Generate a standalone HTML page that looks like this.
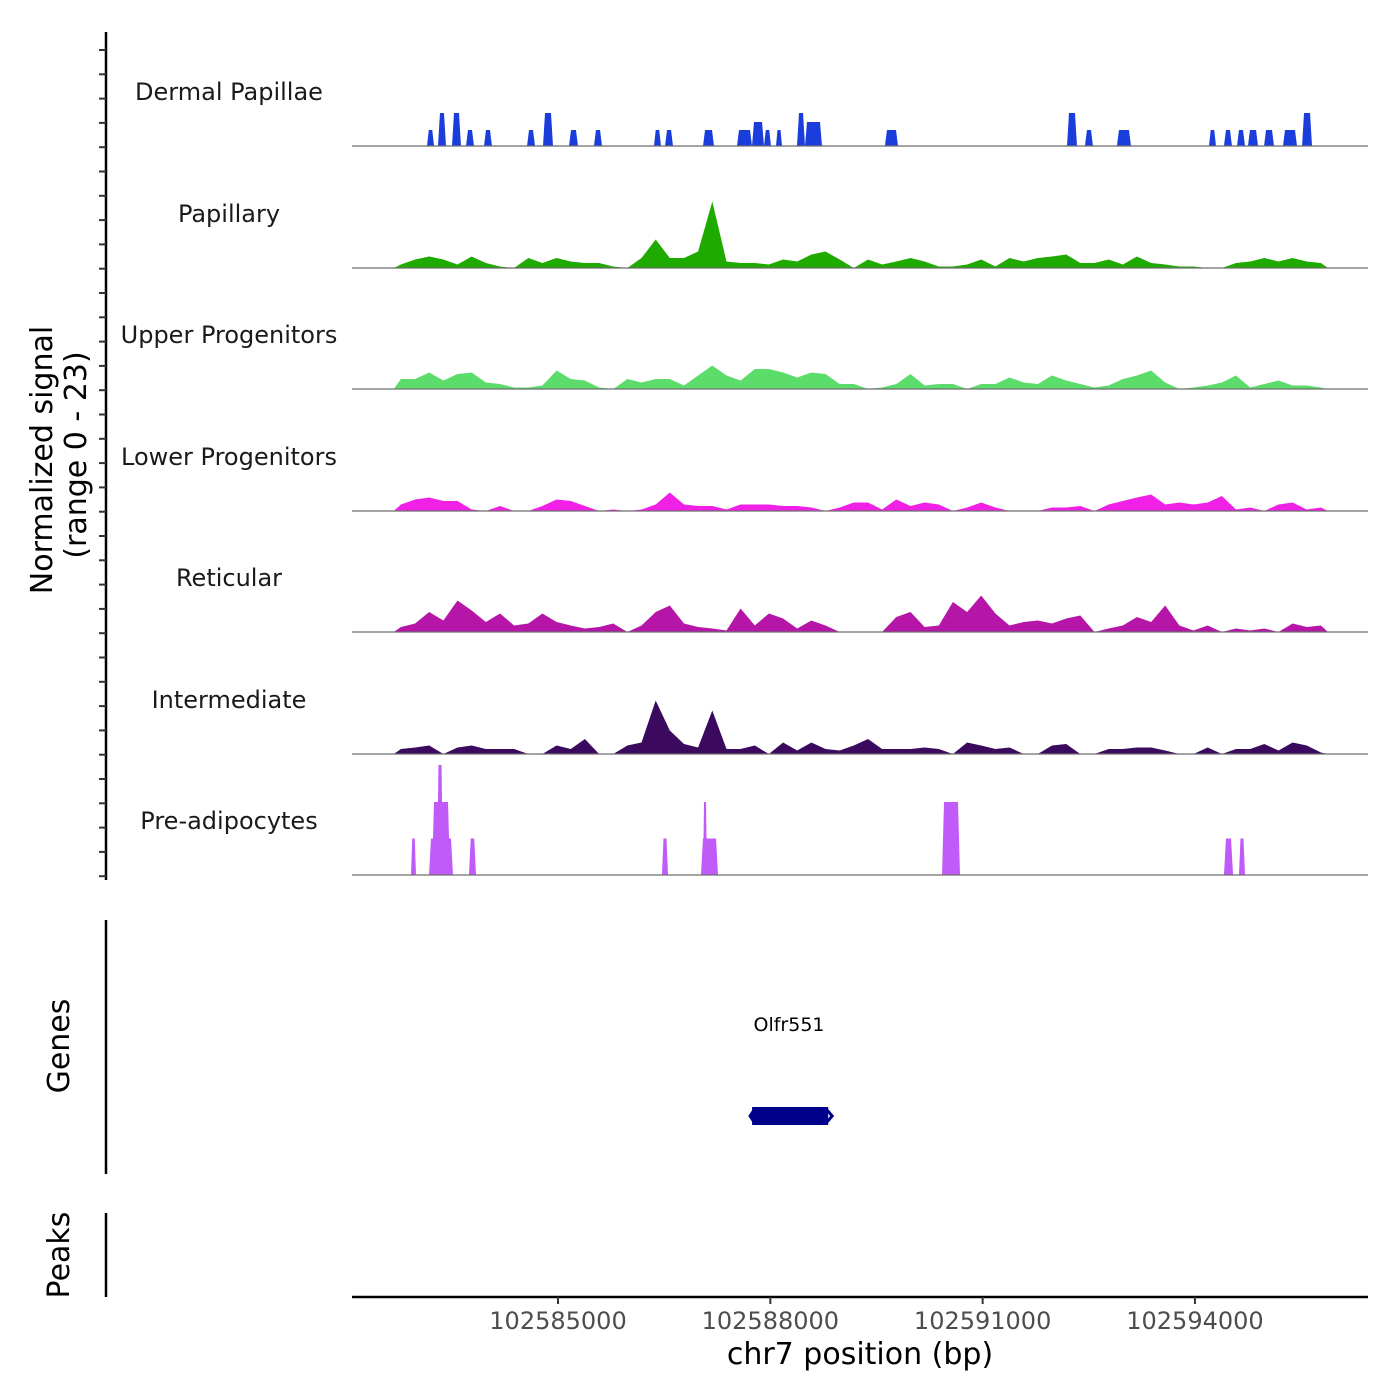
<!DOCTYPE html>
<html><head><meta charset="utf-8"><style>
html,body{margin:0;padding:0;background:#fff;}
svg{display:block;font-family:"DejaVu Sans","Liberation Sans",sans-serif;}
</style></head><body>
<svg id="chart" width="1400" height="1400" viewBox="0 0 1400 1400" xmlns="http://www.w3.org/2000/svg">
<g id="axes"></g>
<g id="tracks"></g>
<text transform="translate(52,460) rotate(-90)" text-anchor="middle" font-size="30" fill="#000">Normalized signal</text>
<text transform="translate(86,455) rotate(-90)" text-anchor="middle" font-size="30" fill="#000">(range 0 - 23)</text>
<text transform="translate(69,1046) rotate(-90)" text-anchor="middle" font-size="30" fill="#000">Genes</text>
<text transform="translate(69,1255) rotate(-90)" text-anchor="middle" font-size="30" fill="#000">Peaks</text>
<text x="860" y="1364" text-anchor="middle" font-size="30" fill="#000">chr7 position (bp)</text>
<text x="789" y="1031" text-anchor="middle" font-size="19" fill="#000">Olfr551</text>
</svg>
<script>
// ---- data ----
const regionStart = 102582089;
const bpPerPx = 14.13;
const xTicks = [102585000, 102588000, 102591000, 102594000];
const trackNames = ["Dermal Papillae","Papillary","Upper Progenitors","Lower Progenitors","Reticular","Intermediate","Pre-adipocytes"];
const trackColors = ["#1a3ddc","#1faa00","#5cdc6a","#f020e6","#b516a8","#3b0a5e","#c05af8"];
const binStart = 102582680;
const binWidth = 200;
const papillary = [0.7,1.7,2.3,1.7,0.7,2.3,1,0.3,0,2,1,2,1.3,1,1,0.3,0,2,5.7,2,2,3.3,13.3,1.3,1,1,0.7,1.7,1.3,2.7,3.3,1.7,0,1.7,0.7,1.3,2,1.3,0.3,0.3,0.7,1.7,0.3,2,1.3,2,2.3,2.7,1,1,1.7,0.7,2.3,1,0.7,0.3,0.3,0,0,1,1.3,2,1.3,2,1.3,1];
const upperProg = [2,2,3.3,1.7,3,3.3,1.3,1,0.3,0.3,0.7,3.7,2,1.7,0.3,0,2,1.3,2,2,0.7,2.7,4.7,2.7,1.7,4,4,3.3,2.3,3.3,3,1,1,0,0.3,1,3,0.7,1,1,0,1,1,2.3,1.3,1,2.7,1.7,1,0.3,0.7,2,2.7,3.7,1.3,0,0.3,0.7,1.3,2.7,0.3,1,1.7,0.7,0.7,0.3];
const lowerProg = [1.3,2.3,2.7,2,2,0.3,0,1,0,0,1,2.3,2,1,0,0.3,0,0.3,1.3,3.7,1.3,1,1,0.3,1.3,1.3,1.3,1,1,0.7,0,0.7,1.7,1.7,0.3,2.3,1,1.7,1.3,0,0.7,1.7,0.7,0,0,0,0.7,0.7,1,0,1.3,2,2.7,3.3,1.3,1.7,1.3,1.7,3,0.3,0.7,0,1.3,1.7,0.3,0.7];
const reticular = [1,1.7,4,2.3,6.3,4.3,2,3.7,1.3,1.7,3.7,2,1.3,0.7,1,1.7,0,1.3,4,5.3,1.7,1,0.7,0.3,4.7,1.3,3.7,2.7,0.7,2.3,1.3,0,0,0,0,3,4,1,1.3,6,4,7.3,3.7,1.3,2,2.3,1.7,2.7,3.3,0,0.7,1.3,3,2,5.3,1.3,0.3,1.3,0,0.7,0.3,0.7,0,1.7,1,1.3];
const intermediate = [1,1.3,1.7,0,1.3,1.7,1,1,1,0,0,1.7,1,3,0,0,1.7,2.3,10.7,4.7,2,1.3,8.7,1,1,1.7,0,2.3,0.7,2.3,1,0.7,1.7,3,1,1,1,1.3,1,0,2.3,1.7,1,1.3,0,0,1.7,2,0,0,1,1,1.3,1.3,0.7,0,0,1.3,0,1,1,2,0.7,2.3,1.7,0.3];
const dermalStarts = [102583149,102583304,102583502,102583700,102583954,102584562,102584788,102585155,102585508,102586356,102586512,102587049,102587529,102587741,102587911,102588080,102588377,102588490,102589620,102592192,102592446,102592898,102594198,102594410,102594594,102594749,102594976,102595244,102595513];
const dermalEnds   = [102583248,102583417,102583629,102583813,102584067,102584675,102584929,102585282,102585622,102586455,102586625,102587204,102587741,102587911,102588009,102588165,102588490,102588730,102589804,102592333,102592559,102593096,102594297,102594523,102594707,102594891,102595117,102595442,102595654];
const dermalHeights= [3.2,6.6,6.6,3.2,3.2,3.2,6.6,3.2,3.2,3.2,3.2,3.2,3.2,4.8,3.2,3.2,6.6,4.8,3.2,6.6,3.2,3.2,3.2,3.2,3.2,3.2,3.2,3.2,6.6];
const preadStarts = [102582923,102583177,102583219,102583290,102583742,102586469,102587020,102587049,102590426,102594410,102594622];
const preadEnds   = [102582993,102583516,102583474,102583375,102583841,102586554,102587261,102587105,102590680,102594538,102594707];
const preadHeights= [7.3,7.3,14.6,22,7.3,7.3,7.3,14.6,14.6,7.3,7.3];
const geneStart = 102587742, geneEnd = 102588817;

// ---- layout ----
const X0 = 352, X1 = 1368;
const baselines = [146,268,389,511,632,754,875];
const pxPerUnit = 5;
const NS = "http://www.w3.org/2000/svg";
function xs(bp){ return X0 + (bp - regionStart) / bpPerPx; }
function ys(t, v){ return baselines[t] - v * pxPerUnit; }
function mk(tag, attrs, parent){ const e = document.createElementNS(NS, tag); for (const k in attrs) e.setAttribute(k, attrs[k]); parent.appendChild(e); return e; }

const axes = document.getElementById('axes');
const tracksG = document.getElementById('tracks');

let ax = mk('line', {x1:106,y1:32,x2:106,y2:880,stroke:'#000','stroke-width':2.5}, axes);


for (let y = 50; y <= 880; y += 24.3) {
  const t = mk('line', {x1:99,y1:y,x2:106,y2:y,stroke:'#333','stroke-width':2}, axes);
  
  
}
let ga = mk('line', {x1:106,y1:920,x2:106,y2:1174,stroke:'#000','stroke-width':2.5}, axes);


let pa = mk('line', {x1:106,y1:1213,x2:106,y2:1297,stroke:'#000','stroke-width':2.5}, axes);



let xa = mk('line', {x1:X0,y1:1297,x2:X1,y2:1297,stroke:'#000','stroke-width':2.5}, axes);


xTicks.forEach(v => {
  const x = xs(v);
  const tk = mk('line', {x1:x,y1:1297,x2:x,y2:1304,stroke:'#333','stroke-width':2}, axes);
  
  
  const lb = mk('text', {x:x,y:1329,'text-anchor':'middle','font-size':24,fill:'#4d4d4d'}, axes);
  lb.textContent = String(v);
  
  
});

trackNames.forEach((n, t) => {
  const lb = mk('text', {x:229,y:baselines[t]-46,'text-anchor':'middle','font-size':24,fill:'#1a1a1a'}, tracksG);
  lb.textContent = n;
  
  
});

function binned(t, arr){
  let d = 'M' + xs(binStart) + ',' + baselines[t];
  arr.forEach((v, i) => { d += ' L' + xs(binStart + (i + 0.5) * binWidth).toFixed(1) + ',' + ys(t, v).toFixed(1); });
  d += ' L' + xs(binStart + arr.length * binWidth).toFixed(1) + ',' + baselines[t] + ' Z';
  const p = mk('path', {d:d, fill:trackColors[t]}, tracksG);
  
  
}
function blocks(t, starts, ends, heights){
  starts.forEach((s, i) => {
    const a = xs(s), b = xs(ends[i]), top = ys(t, heights[i]), base = baselines[t];
    const sl = Math.min(2, (b - a) / 4);
    const p = mk('polygon', {points: a+','+base+' '+(a+sl)+','+top+' '+(b-sl)+','+top+' '+b+','+base, fill:trackColors[t]}, tracksG);
    
    
  });
}
blocks(0, dermalStarts, dermalEnds, dermalHeights);
binned(1, papillary);
binned(2, upperProg);
binned(3, lowerProg);
binned(4, reticular);
binned(5, intermediate);
blocks(6, preadStarts, preadEnds, preadHeights);

baselines.forEach(y => {
  const l = mk('line', {x1:X0,y1:y,x2:X1,y2:y,stroke:'#6e6e6e','stroke-width':1.2}, tracksG);
  
  
});

const gx0 = xs(geneStart), gx1 = xs(geneEnd);
const gb = mk('rect', {x:gx0,y:1107,width:gx1-gx0,height:18,fill:'#00008b'}, tracksG);


const ar = mk('path', {d:'M'+(gx0+2)+',1110 l-4,6 l4,6 M'+(gx1-2)+',1109 l6,7 l-6,7', stroke:'#00008b','stroke-width':3,fill:'none'}, tracksG);


</script>
</body></html>
